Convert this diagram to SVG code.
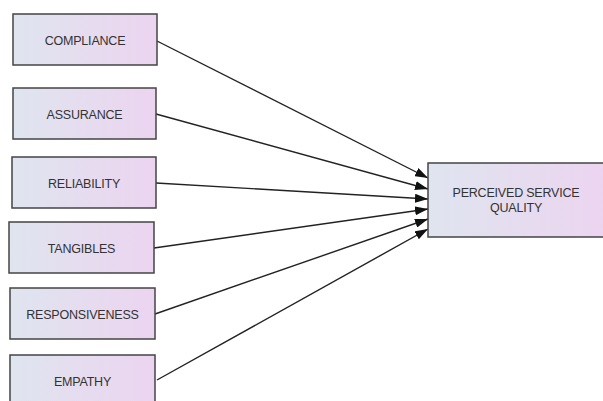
<svg xmlns="http://www.w3.org/2000/svg" width="603" height="401" viewBox="0 0 603 401">
<style>
.box{fill:url(#g);stroke:#444;stroke-width:1.5}
.t{font-family:"Liberation Sans",Arial,sans-serif;font-size:12.5px;fill:#333;text-anchor:middle;letter-spacing:-0.2px}
.c{stroke:#222;stroke-width:1.4;fill:none;marker-end:url(#a)}
</style>
<defs>
<linearGradient id="g" x1="0" y1="0" x2="1" y2="0">
<stop offset="0" stop-color="#dfe5ef"/>
<stop offset="1" stop-color="#ecd4f0"/>
</linearGradient>
<marker id="a" viewBox="0 0 13 9" refX="13" refY="4.5" markerWidth="13" markerHeight="9" markerUnits="userSpaceOnUse" orient="auto">
<path d="M0,0 L13,4.5 L0,9 Z" fill="#111"/>
</marker>
</defs>
<rect width="603" height="401" fill="#fff"/>
<g id="connectors">
<line class="c" x1="157" y1="41" x2="428" y2="178"/>
<line class="c" x1="156" y1="114" x2="428" y2="189"/>
<line class="c" x1="156" y1="183" x2="428" y2="199"/>
<line class="c" x1="154" y1="248" x2="428" y2="209"/>
<line class="c" x1="155" y1="314" x2="428" y2="219"/>
<line class="c" x1="157" y1="380" x2="428" y2="229"/>
</g>
<g id="compliance"><rect class="box" x="13" y="14" width="144" height="51"/><text class="t" x="85" y="44.5">COMPLIANCE</text></g>
<g id="assurance"><rect class="box" x="13" y="88" width="143" height="51"/><text class="t" x="84.5" y="118.5">ASSURANCE</text></g>
<g id="reliability"><rect class="box" x="12" y="157" width="144" height="51"/><text class="t" x="84" y="187.5">RELIABILITY</text></g>
<g id="tangibles"><rect class="box" x="9" y="222" width="145" height="51"/><text class="t" x="81.5" y="252.5">TANGIBLES</text></g>
<g id="responsiveness"><rect class="box" x="10" y="288" width="145" height="51"/><text class="t" x="82.5" y="318.5">RESPONSIVENESS</text></g>
<g id="empathy"><rect class="box" x="10" y="355" width="145" height="52"/><text class="t" x="82.5" y="385.5">EMPATHY</text></g>
<g id="psq"><rect class="box" x="428" y="163" width="180" height="74"/><text class="t" x="516" y="196.5">PERCEIVED SERVICE</text><text class="t" x="516" y="211.5">QUALITY</text></g>
</svg>
